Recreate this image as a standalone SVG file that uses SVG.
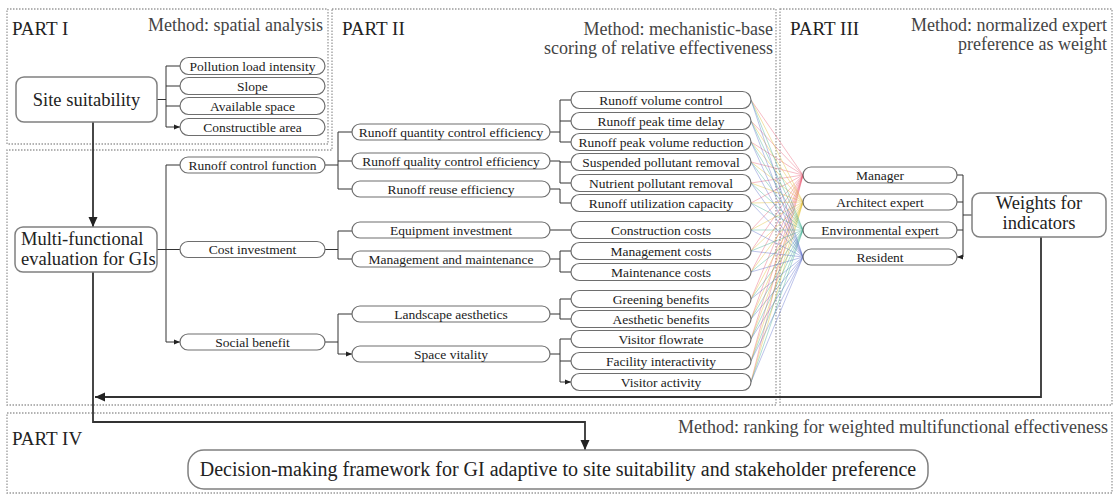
<svg xmlns="http://www.w3.org/2000/svg" width="1119" height="495" viewBox="0 0 1119 495">
<style>
text{font-family:"Liberation Serif","Times New Roman",serif;fill:#222}
.part{font-size:19px}
.meth{font-size:18px;fill:#444;text-anchor:end}
.big{font-size:18.5px}
.sm{font-size:13.5px;text-anchor:middle}
.zone{fill:none;stroke:#9a9a9a;stroke-width:1.3;stroke-dasharray:1.5 1.5}
.bx{fill:#fff;stroke:#6e6e6e;stroke-width:1.2}
.bb{fill:#fff;stroke:#808080;stroke-width:1.5}
.c{fill:none;stroke:#333;stroke-width:1}
.ct{fill:none;stroke:#333;stroke-width:1.8}
</style>
<defs>
<marker id="a" viewBox="0 0 6 6" refX="6" refY="3" markerWidth="6" markerHeight="6" markerUnits="userSpaceOnUse" orient="auto"><path d="M0,0.6L6,3L0,5.4z" fill="#222"/></marker>
<marker id="A" viewBox="0 0 10 10" refX="10" refY="5" markerWidth="10" markerHeight="10" markerUnits="userSpaceOnUse" orient="auto"><path d="M0,0.5L10,5L0,9.5z" fill="#222"/></marker>
</defs>
<rect width="1119" height="495" fill="#fff"/>

<g id="zones">
<rect class="zone" x="7" y="9" width="321" height="135"/>
<path class="zone" d="M332,9H776V405H7V150H332Z"/>
<rect class="zone" x="780" y="9" width="332" height="396"/>
<rect class="zone" x="7" y="413" width="1105" height="80"/>
<text class="part" x="12" y="35">PART I</text>
<text class="meth" x="323" y="31">Method: spatial analysis</text>
<text class="part" x="342" y="35">PART II</text>
<text class="meth" x="773" y="35">Method: mechanistic-base</text>
<text class="meth" x="773" y="53.5">scoring of relative effectiveness</text>
<text class="part" x="790" y="35">PART III</text>
<text class="meth" x="1107" y="31">Method: normalized expert</text>
<text class="meth" x="1107" y="49.5">preference as weight</text>
<text class="part" x="12" y="445">PART IV</text>
<text class="meth" x="1108" y="433">Method: ranking for weighted multifunctional effectiveness</text>
</g>

<g id="fan" stroke-width="0.7" stroke-opacity="0.55" fill="none">
<g stroke="#e8506a">
<path d="M751,100L803,175M751,121L803,175M751,142L803,175M751,162L803,175M751,183L803,175M751,203L803,175M751,230L803,175M751,251L803,175M751,272L803,175M751,299L803,175M751,319L803,175M751,339L803,175M751,361L803,175M751,382L803,175"/>
</g>
<g stroke="#e0b820">
<path d="M751,100L803,202M751,121L803,202M751,142L803,202M751,162L803,202M751,183L803,202M751,203L803,202M751,230L803,202M751,251L803,202M751,272L803,202M751,299L803,202M751,319L803,202M751,339L803,202M751,361L803,202M751,382L803,202"/>
</g>
<g stroke="#30a888">
<path d="M751,100L803,230M751,121L803,230M751,142L803,230M751,162L803,230M751,183L803,230M751,203L803,230M751,230L803,230M751,251L803,230M751,272L803,230M751,299L803,230M751,319L803,230M751,339L803,230M751,361L803,230M751,382L803,230"/>
</g>
<g stroke="#5060c8">
<path d="M751,100L803,257M751,121L803,257M751,142L803,257M751,162L803,257M751,183L803,257M751,203L803,257M751,230L803,257M751,251L803,257M751,272L803,257M751,299L803,257M751,319L803,257M751,339L803,257M751,361L803,257M751,382L803,257"/>
</g>
</g>

<g id="connectors">
<path class="c" d="M157,99.5H166M166,66V127"/>
<path class="c" marker-end="url(#a)" d="M166,66H180M166,86H180M166,106H180M166,127H180"/>
<path class="c" d="M157,249.5H166M166,165V342"/>
<path class="c" marker-end="url(#a)" d="M166,165H180M166,249.5H180M166,342H180"/>
<path class="c" d="M325,165H338M338,132V189M325,249.5H338M338,231V259M325,342H338M338,314V354"/>
<path class="c" marker-end="url(#a)" d="M338,132H352M338,161H352M338,189H352M338,231H352M338,259H352M338,314H352M338,354H352"/>
<path class="c" d="M550,132H560M560,100V142M550,161H560M560,161V183M550,189H560M560,189V203M550,259H560M560,251V272M550,314H560M560,299V319M550,354H560M560,339V382"/>
<path class="c" marker-end="url(#a)" d="M560,100H571M560,121H571M560,142H571M560,162H571M560,183H571M560,203H571M550,230H571M560,251H571M560,272H571M560,299H571M560,319H571M560,339H571M560,361H571M560,382H571"/>
<path class="c" d="M972,215H963M963,175V257"/>
<path class="c" marker-end="url(#a)" d="M963,175H957M963,202H957M963,230H957M963,257H957"/>
<path class="ct" marker-end="url(#A)" d="M93,122V227"/>
<path class="ct" marker-end="url(#A)" d="M1041,237V397H95"/>
<path class="ct" marker-end="url(#A)" d="M93,272V422H585V450"/>
</g>

<g id="site">
<rect class="bb" x="16" y="77" width="141" height="45" rx="8"/>
<text class="big" x="86.5" y="106" text-anchor="middle">Site suitability</text>
</g>
<g id="p1-pollution"><rect class="bx" x="180" y="57.5" width="145" height="17" rx="8.5"/><text class="sm" x="252.5" y="70.5">Pollution load intensity</text></g>
<g id="p1-slope"><rect class="bx" x="180" y="77.5" width="145" height="17" rx="8.5"/><text class="sm" x="252.5" y="90.5">Slope</text></g>
<g id="p1-space"><rect class="bx" x="180" y="97.5" width="145" height="17" rx="8.5"/><text class="sm" x="252.5" y="110.5">Available space</text></g>
<g id="p1-area"><rect class="bx" x="180" y="118.5" width="145" height="17" rx="8.5"/><text class="sm" x="252.5" y="131.5">Constructible area</text></g>

<g id="multi">
<rect class="bb" x="15" y="227" width="142" height="45" rx="8"/>
<text class="big" x="21" y="245">Multi-functional</text>
<text class="big" x="21" y="265">evaluation for GIs</text>
</g>

<g id="l1-runoff"><rect class="bx" x="180" y="157" width="145" height="16" rx="8"/><text class="sm" x="252.5" y="169.5">Runoff control function</text></g>
<g id="l1-cost"><rect class="bx" x="180" y="241.5" width="145" height="16" rx="8"/><text class="sm" x="252.5" y="254">Cost investment</text></g>
<g id="l1-social"><rect class="bx" x="180" y="334" width="145" height="16" rx="8"/><text class="sm" x="252.5" y="346.5">Social benefit</text></g>

<g id="l2-quantity"><rect class="bx" x="352" y="124" width="198" height="16" rx="8"/><text class="sm" x="451" y="136.5">Runoff quantity control efficiency</text></g>
<g id="l2-quality"><rect class="bx" x="352" y="153" width="198" height="16" rx="8"/><text class="sm" x="451" y="165.5">Runoff quality control efficiency</text></g>
<g id="l2-reuse"><rect class="bx" x="352" y="181" width="198" height="16" rx="8"/><text class="sm" x="451" y="193.5">Runoff reuse efficiency</text></g>
<g id="l2-equip"><rect class="bx" x="352" y="222" width="198" height="16" rx="8"/><text class="sm" x="451" y="234.5">Equipment investment</text></g>
<g id="l2-mgmt"><rect class="bx" x="352" y="251" width="198" height="16" rx="8"/><text class="sm" x="451" y="263.5">Management and maintenance</text></g>
<g id="l2-landscape"><rect class="bx" x="352" y="306" width="198" height="16" rx="8"/><text class="sm" x="451" y="318.5">Landscape aesthetics</text></g>
<g id="l2-vitality"><rect class="bx" x="352" y="346" width="198" height="16" rx="8"/><text class="sm" x="451" y="358.5">Space vitality</text></g>

<g id="l3-1"><rect class="bx" x="571" y="91.5" width="180" height="17" rx="8.5"/><text class="sm" x="661" y="104.5">Runoff volume control</text></g>
<g id="l3-2"><rect class="bx" x="571" y="112.5" width="180" height="17" rx="8.5"/><text class="sm" x="661" y="125.5">Runoff peak time delay</text></g>
<g id="l3-3"><rect class="bx" x="571" y="133.5" width="180" height="17" rx="8.5"/><text class="sm" x="661" y="146.5">Runoff peak volume reduction</text></g>
<g id="l3-4"><rect class="bx" x="571" y="153.5" width="180" height="17" rx="8.5"/><text class="sm" x="661" y="166.5">Suspended pollutant removal</text></g>
<g id="l3-5"><rect class="bx" x="571" y="174.5" width="180" height="17" rx="8.5"/><text class="sm" x="661" y="187.5">Nutrient pollutant removal</text></g>
<g id="l3-6"><rect class="bx" x="571" y="194.5" width="180" height="17" rx="8.5"/><text class="sm" x="661" y="207.5">Runoff utilization capacity</text></g>
<g id="l3-7"><rect class="bx" x="571" y="221.5" width="180" height="17" rx="8.5"/><text class="sm" x="661" y="234.5">Construction costs</text></g>
<g id="l3-8"><rect class="bx" x="571" y="242.5" width="180" height="17" rx="8.5"/><text class="sm" x="661" y="255.5">Management costs</text></g>
<g id="l3-9"><rect class="bx" x="571" y="263.5" width="180" height="17" rx="8.5"/><text class="sm" x="661" y="276.5">Maintenance costs</text></g>
<g id="l3-10"><rect class="bx" x="571" y="290.5" width="180" height="17" rx="8.5"/><text class="sm" x="661" y="303.5">Greening benefits</text></g>
<g id="l3-11"><rect class="bx" x="571" y="310.5" width="180" height="17" rx="8.5"/><text class="sm" x="661" y="323.5">Aesthetic benefits</text></g>
<g id="l3-12"><rect class="bx" x="571" y="330.5" width="180" height="17" rx="8.5"/><text class="sm" x="661" y="343.5">Visitor flowrate</text></g>
<g id="l3-13"><rect class="bx" x="571" y="352.5" width="180" height="17" rx="8.5"/><text class="sm" x="661" y="365.5">Facility interactivity</text></g>
<g id="l3-14"><rect class="bx" x="571" y="373.5" width="180" height="17" rx="8.5"/><text class="sm" x="661" y="386.5">Visitor activity</text></g>

<g id="r-manager"><rect class="bx" x="803" y="167" width="154" height="16" rx="8"/><text class="sm" x="880" y="179.5">Manager</text></g>
<g id="r-architect"><rect class="bx" x="803" y="194" width="154" height="16" rx="8"/><text class="sm" x="880" y="206.5">Architect expert</text></g>
<g id="r-env"><rect class="bx" x="803" y="222" width="154" height="16" rx="8"/><text class="sm" x="880" y="234.5">Environmental expert</text></g>
<g id="r-resident"><rect class="bx" x="803" y="249" width="154" height="16" rx="8"/><text class="sm" x="880" y="261.5">Resident</text></g>

<g id="weights">
<rect class="bb" x="972" y="193" width="134" height="44" rx="8"/>
<text class="big" x="1039" y="209" text-anchor="middle">Weights for</text>
<text class="big" x="1039" y="229" text-anchor="middle">indicators</text>
</g>

<g id="decision">
<rect class="bb" x="188" y="450" width="740" height="39" rx="16"/>
<text x="558" y="476" text-anchor="middle" font-size="20">Decision-making framework for GI adaptive to site suitability and stakeholder preference</text>
</g>
</svg>
